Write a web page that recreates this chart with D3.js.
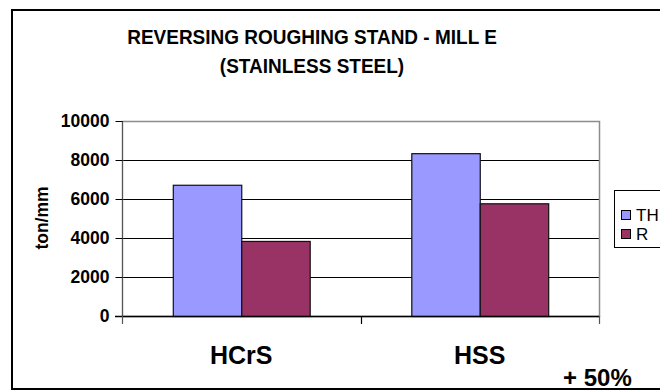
<!DOCTYPE html>
<html>
<head>
<meta charset="utf-8">
<script src="https://cdn.jsdelivr.net/npm/d3@7"></script>
<style>
  body { margin: 0; background: #fff; }
  svg { display: block; font-family: Arial, "Liberation Sans", sans-serif; }
</style>
</head>
<body>
<div class="chart"></div>
<script>
// data
const categories = ["HCrS", "HSS"];
const seriesNames = ["TH", "R"];
const thValues = [6730, 8350];
const rValues = [3850, 5780];
const yTicks = [0, 2000, 4000, 6000, 8000, 10000];
const titleLines = ["REVERSING ROUGHING STAND - MILL E", "(STAINLESS STEEL)"];
const note = "+ 50%";

const width = 660, height = 391;
const color = d3.scaleOrdinal().domain(seriesNames).range(["#9999ff", "#993366"]);

const svg = d3.select(".chart")
    .append("svg")
    .attr("width", width)
    .attr("height", height);

const plot = { left: 122, right: 599, top: 121, bottom: 316 };

const x = d3.scaleBand()
    .domain(categories)
    .range([plot.left, plot.right])
    .paddingInner(0.426)
    .paddingOuter(0.213);

const xSub = d3.scaleBand()
    .domain(seriesNames)
    .range([0, x.bandwidth()]);

const y = d3.scaleLinear()
    .domain([0, 10000])
    .range([plot.bottom, plot.top]);

// gridlines
svg.append("g")
    .selectAll("line")
    .data(yTicks.filter(d => d > 0 && d < 10000))
    .join("line")
    .attr("x1", plot.left)
    .attr("x2", plot.right)
    .attr("y1", d => y(d) + 0.5)
    .attr("y2", d => y(d) + 0.5)
    .attr("stroke", "#000")
    .attr("stroke-width", 1);

// plot area border (gray)
svg.append("rect")
    .attr("x", plot.left + 0.5)
    .attr("y", plot.top + 0.5)
    .attr("width", plot.right - plot.left)
    .attr("height", plot.bottom - plot.top)
    .attr("fill", "none")
    .attr("stroke", "#8c8c8c")
    .attr("stroke-width", 1.5);

// bars
const rows = categories.map((c, i) => ({ cat: c, values: [thValues[i], rValues[i]] }));

svg.append("g")
    .selectAll("g")
    .data(rows)
    .join("g")
    .attr("transform", d => `translate(${x(d.cat)},0)`)
    .selectAll("rect")
    .data(d => d.values.map((v, j) => ({ name: seriesNames[j], value: v })))
    .join("rect")
    .attr("x", d => xSub(d.name) + 0.5)
    .attr("y", d => y(d.value) + 0.5)
    .attr("width", xSub.bandwidth())
    .attr("height", d => y(0) - y(d.value))
    .attr("fill", d => color(d.name))
    .attr("stroke", "#111")
    .attr("stroke-width", 1.2);

// y axis
const yAxis = svg.append("g")
    .attr("transform", `translate(${plot.left + 0.5},0)`)
    .call(d3.axisLeft(y).tickValues(yTicks).tickSize(7).tickPadding(6).tickFormat(d3.format("d")));
yAxis.select(".domain").attr("stroke", "#555").attr("d", `M0,${plot.top}V${plot.bottom + 7}`);
yAxis.selectAll(".tick line").attr("stroke", "#000");
yAxis.selectAll(".tick text")
    .attr("font-size", 17.5)
    .attr("font-weight", "bold")
    .attr("font-family", "Arial, 'Liberation Sans', sans-serif")
    .attr("fill", "#000");

// x axis line and category separators
svg.append("line")
    .attr("x1", plot.left - 7)
    .attr("x2", plot.right)
    .attr("y1", plot.bottom + 0.5)
    .attr("y2", plot.bottom + 0.5)
    .attr("stroke", "#000")
    .attr("stroke-width", 1.5);

const bounds = [plot.left, (plot.left + plot.right) / 2, plot.right];
svg.append("g")
    .selectAll("line")
    .data(bounds)
    .join("line")
    .attr("x1", d => Math.round(d) + 0.5)
    .attr("x2", d => Math.round(d) + 0.5)
    .attr("y1", plot.bottom)
    .attr("y2", plot.bottom + 8)
    .attr("stroke", (d, i) => i === 1 ? "#000" : "#555")
    .attr("stroke-width", 1.2);

// category labels
svg.append("g")
    .selectAll("text")
    .data(categories)
    .join("text")
    .attr("x", d => x(d) + x.bandwidth() / 2)
    .attr("y", 364)
    .attr("text-anchor", "middle")
    .attr("font-size", 25)
    .attr("font-weight", "bold")
    .text(d => d);

// y axis title
svg.append("text")
    .attr("transform", "translate(48,218) rotate(-90)")
    .attr("text-anchor", "middle")
    .attr("font-size", 17.5)
    .attr("font-weight", "bold")
    .text("ton/mm");

// title (slightly condensed, as in the source)
svg.append("g")
    .attr("transform", "translate(312,0) scale(0.95,1)")
    .selectAll("text")
    .data(titleLines)
    .join("text")
    .attr("x", 0)
    .attr("y", (d, i) => 44 + i * 29)
    .attr("text-anchor", "middle")
    .attr("font-size", 20)
    .attr("font-weight", "bold")
    .text(d => d);

// legend
const legend = svg.append("g");
legend.append("rect")
    .attr("x", 614.5)
    .attr("y", 190.5)
    .attr("width", 60)
    .attr("height", 57)
    .attr("fill", "#fff")
    .attr("stroke", "#000")
    .attr("stroke-width", 1);

const items = legend.selectAll("g")
    .data(seriesNames)
    .join("g")
    .attr("transform", (d, i) => `translate(621,${210 + i * 19})`);
items.append("rect")
    .attr("x", 0.5)
    .attr("y", 0.5)
    .attr("width", 9)
    .attr("height", 9)
    .attr("fill", d => color(d))
    .attr("stroke", "#000");
items.append("text")
    .attr("x", 15)
    .attr("y", 10.5)
    .attr("font-size", 17)
    .text(d => d);

// outer chart border
svg.append("path")
    .attr("d", `M${width + 5},10 H12 V389 H${width + 5}`)
    .attr("fill", "none")
    .attr("stroke", "#000")
    .attr("stroke-width", 2);

// note, sitting on the bottom border
svg.append("text")
    .attr("x", 563)
    .attr("y", 386)
    .attr("font-size", 24)
    .attr("font-weight", "bold")
    .text(note);
</script>
</body>
</html>
